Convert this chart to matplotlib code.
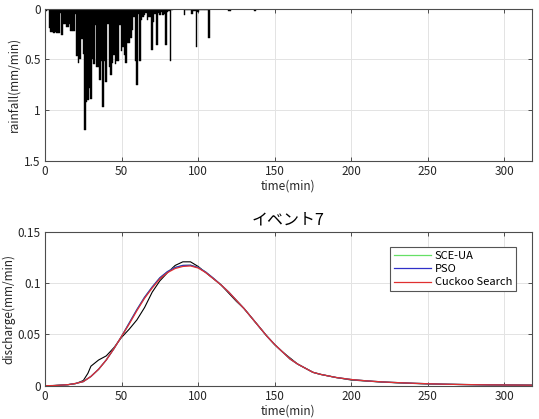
import numpy as np
import matplotlib
matplotlib.use("Agg")
import matplotlib.pyplot as plt

plt.rcParams['font.family'] = ['Noto Sans CJK JP', 'DejaVu Sans']

# ---------------- data ----------------
rain_time = list(range(0, 138))
rain_vals = [0.014, 0.02, 0.01, 0.19, 0.23, 0.23, 0.24, 0.23, 0.24, 0.24,
             0.04, 0.26, 0.15, 0.15, 0.18, 0.18, 0.15, 0.22, 0.22, 0.22,
             0.05, 0.47, 0.54, 0.50, 0.30, 0.45, 1.19, 0.92, 0.90, 0.78,
             0.89, 0.50, 0.55, 0.16, 0.57, 0.57, 0.70, 0.52, 0.97, 0.52,
             0.72, 0.15, 0.57, 0.65, 0.54, 0.46, 0.55, 0.52, 0.52, 0.16,
             0.42, 0.38, 0.46, 0.54, 0.34, 0.34, 0.29, 0.21, 0.08, 0.52,
             0.75, 0.05, 0.52, 0.11, 0.08, 0.06, 0.04, 0.11, 0.08, 0.08,
             0.41, 0.13, 0.05, 0.36, 0.04, 0.06, 0.03, 0.06, 0.05, 0.36,
             0.03, 0.02, 0.52, 0.01, 0.005, 0.005, 0.005, 0.005, 0.005, 0.005,
             0.005, 0.06, 0.01, 0.01, 0.01, 0.01, 0.05, 0.02, 0.02, 0.38,
             0.03, 0.015, 0.015, 0.015, 0.015, 0.015, 0.015, 0.29, 0.0, 0.0,
             0.0, 0.0, 0.0, 0.0, 0.0, 0.0, 0.0, 0.0, 0.0, 0.0,
             0.02, 0.02, 0.0, 0.0, 0.0, 0.0, 0.0, 0.0, 0.0, 0.0,
             0.0, 0.0, 0.0, 0.0, 0.0, 0.0, 0.0, 0.02]

q_time = [0, 5, 10, 15, 20, 25, 28, 30, 35, 40, 45, 50, 55, 60, 65, 70, 75, 80,
          85, 90, 95, 100, 105, 110, 115, 120, 125, 130, 135, 140, 145, 150,
          155, 160, 165, 170, 175, 180, 190, 200, 210, 220, 230, 240, 250,
          260, 270, 280, 290, 300, 310, 318]
q_obs = [0.0, 0.0, 0.0005, 0.001, 0.002, 0.005, 0.012, 0.019, 0.025, 0.029,
         0.037, 0.047, 0.055, 0.064, 0.076, 0.091, 0.102, 0.110, 0.117, 0.1205,
         0.1205, 0.116, 0.110, 0.104, 0.098, 0.090, 0.082, 0.075, 0.066, 0.057,
         0.048, 0.040, 0.033, 0.027, 0.021, 0.017, 0.013, 0.011, 0.008, 0.0055,
         0.0045, 0.0035, 0.0028, 0.0022, 0.0017, 0.0014, 0.0012, 0.001, 0.0008,
         0.0007, 0.0006, 0.0005]
q_sce = [0.0, 0.0001, 0.0005, 0.001, 0.0022, 0.004, 0.007, 0.009, 0.016, 0.025,
         0.036, 0.048, 0.061, 0.074, 0.086, 0.096, 0.105, 0.111, 0.115, 0.117,
         0.1172, 0.115, 0.1105, 0.1045, 0.098, 0.091, 0.083, 0.075, 0.066, 0.057,
         0.048, 0.040, 0.033, 0.026, 0.021, 0.017, 0.013, 0.011, 0.008, 0.006,
         0.0047, 0.0037, 0.003, 0.0024, 0.0019, 0.0015, 0.0012, 0.001, 0.0008,
         0.0007, 0.0006, 0.0005]
q_pso = [0.0, 0.0001, 0.0005, 0.001, 0.0022, 0.004, 0.007, 0.009, 0.016, 0.025,
         0.036, 0.048, 0.061, 0.074, 0.086, 0.096, 0.105, 0.111, 0.115, 0.117,
         0.1172, 0.115, 0.1105, 0.1045, 0.098, 0.091, 0.083, 0.075, 0.066, 0.057,
         0.048, 0.040, 0.033, 0.026, 0.021, 0.017, 0.013, 0.011, 0.008, 0.006,
         0.0047, 0.0037, 0.003, 0.0024, 0.0019, 0.0015, 0.0012, 0.001, 0.0008,
         0.0007, 0.0006, 0.0005]
q_cs = [0.0, 0.0001, 0.0005, 0.001, 0.0022, 0.004, 0.007, 0.009, 0.016, 0.025,
        0.036, 0.048, 0.060, 0.073, 0.085, 0.095, 0.104, 0.110, 0.114, 0.116,
        0.1165, 0.1145, 0.110, 0.104, 0.098, 0.091, 0.083, 0.075, 0.066, 0.057,
        0.048, 0.040, 0.033, 0.026, 0.021, 0.017, 0.013, 0.011, 0.008, 0.006,
        0.0047, 0.0037, 0.003, 0.0024, 0.0019, 0.0015, 0.0012, 0.001, 0.0008,
        0.0007, 0.0006, 0.0005]

x_ticks = [0, 50, 100, 150, 200, 250, 300]
rain_ticks = [0, 0.5, 1, 1.5]
rain_ticklabels = ['0', '0.5', '1', '1.5']
q_ticks = [0, 0.05, 0.1, 0.15]
q_ticklabels = ['0', '0.05', '0.1', '0.15']

# ---------------- figure ----------------
W, H = 539, 419
fig = plt.figure(figsize=(W / 100, H / 100), dpi=100)

def px_axes(l, t, r, b):
    return fig.add_axes([l / W, 1 - b / H, (r - l) / W, (b - t) / H])

spine_col = '#4d4d4d'
fs = 8.5

def style(ax):
    for s in ax.spines.values():
        s.set_color(spine_col)
        s.set_linewidth(0.8)
    ax.tick_params(direction='in', top=True, right=True, length=3,
                   width=0.7, colors=spine_col, labelcolor='#262626',
                   labelsize=fs, pad=3)
    ax.grid(True, color='#e3e3e3', linewidth=0.7)
    ax.set_axisbelow(True)

ax1 = px_axes(45, 8.6, 532, 161)
ax1.bar(rain_time, rain_vals, width=1.0, color='black', edgecolor='black',
        linewidth=0.3, align='center')
ax1.set_xlim(0, 318)
ax1.set_ylim(1.5, 0)
ax1.set_xticks(x_ticks)
ax1.set_yticks(rain_ticks)
ax1.set_yticklabels(rain_ticklabels)
ax1.set_xlabel('time(min)', fontsize=fs, labelpad=1, color='#262626')
ax1.set_ylabel('rainfall(mm/min)', fontsize=fs, labelpad=3, color='#262626')
style(ax1)

ax2 = px_axes(45, 231.5, 532, 385.7)
ax2.plot(q_time, q_obs, color='black', lw=0.8)
ax2.plot(q_time, q_sce, color='#66e066', lw=0.9, label='SCE-UA')
ax2.plot(q_time, q_pso, color='#3030c8', lw=0.9, label='PSO')
ax2.plot(q_time, q_cs, color='#e03030', lw=0.9, label='Cuckoo Search')
ax2.set_xlim(0, 318)
ax2.set_ylim(0, 0.15)
ax2.set_xticks(x_ticks)
ax2.set_yticks(q_ticks)
ax2.set_yticklabels(q_ticklabels)
ax2.set_xlabel('time(min)', fontsize=fs, labelpad=1, color='#262626')
ax2.set_ylabel('discharge(mm/min)', fontsize=fs, labelpad=1.5, color='#262626')
ax2.set_title('イベント7', fontsize=11.5, pad=5, color='black')
style(ax2)

handles, labels = ax2.get_legend_handles_labels()
leg = ax2.legend(handles, labels, loc='upper right',
                 bbox_to_anchor=(0.967, 0.90), fontsize=8,
                 frameon=True, fancybox=False, framealpha=1,
                 edgecolor='#555555', handlelength=3.4, handletextpad=0.3,
                 borderpad=0.35, labelspacing=0.3, borderaxespad=0)
leg.get_frame().set_linewidth(0.8)

fig.savefig('out.png', dpi=100)
